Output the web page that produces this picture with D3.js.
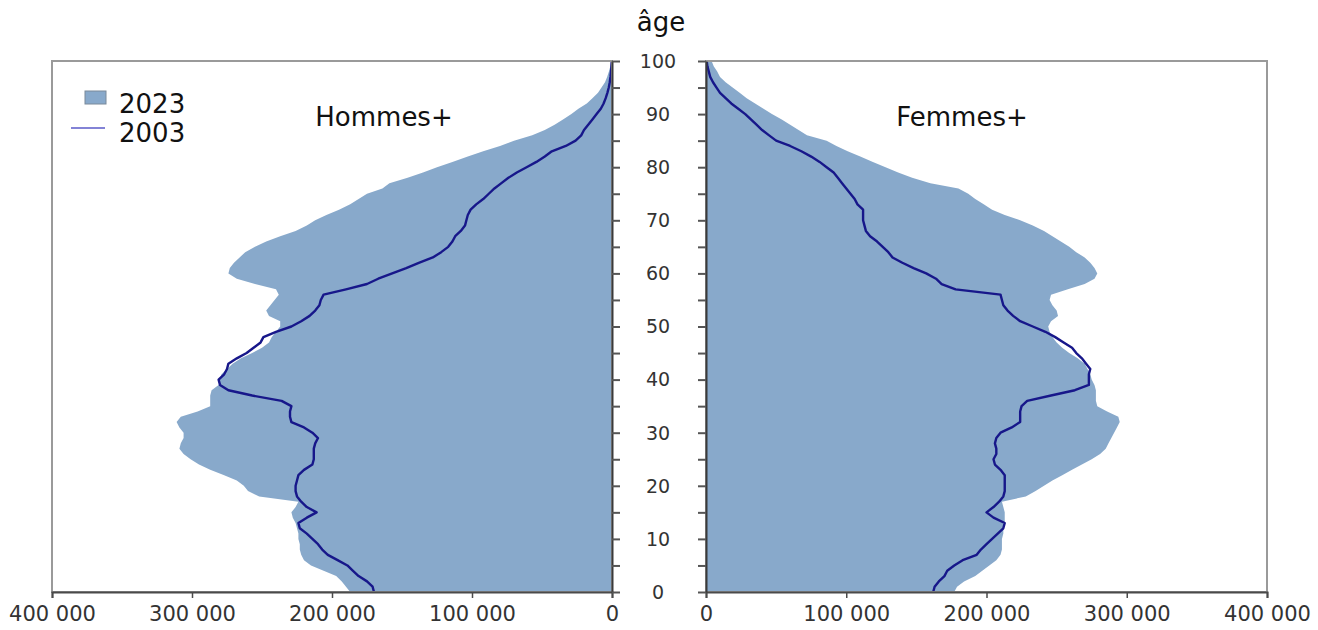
<!DOCTYPE html>
<html>
<head>
<meta charset="utf-8">
<script src="https://cdn.jsdelivr.net/npm/d3@7/dist/d3.min.js"></script>
<style>
body { margin: 0; background: #fff; }
svg text { font-family: "DejaVu Sans", Verdana, sans-serif; }
</style>
</head>
<body>
<div id="chart"></div>
<script>
// ages 0..100, values in thousands of persons
var ages = d3.range(0, 101);

var menFill2023 = [
  187, 190, 193, 197, 206, 215, 220, 222, 223, 223,
  224, 224, 225, 226, 228, 229, 226, 224, 252, 260,
  263, 268, 277, 287, 295, 301, 306, 309, 308, 306,
  306, 309, 311, 308, 296, 287, 287, 287, 286, 281,
  280, 279, 275, 271, 265, 257, 250, 245, 243, 240,
  237, 237, 245, 247, 244, 241, 238, 240, 255, 268,
  274, 273, 270, 266, 262, 255, 247, 237, 226, 218,
  212, 204, 195, 187, 181, 175, 164, 159, 146, 135,
  125, 114, 103, 92, 80, 70, 57, 48, 41, 35,
  29, 24, 18, 14, 10, 7.5, 5, 3.5, 2.2, 1.2, 0.5
];

var menLine2003 = [
  170, 171, 175, 181, 185, 189, 196, 203, 207, 210,
  214, 218, 223, 224, 218, 211, 218, 222, 225, 226,
  226, 225, 224, 220, 214, 213, 213, 213, 212, 210,
  214, 220, 229, 230, 230, 229, 236, 257, 274, 280,
  281, 277, 275, 274, 268, 261, 256, 251, 249, 240,
  229, 222, 216, 212, 209, 208, 206, 190, 175, 167,
  157, 147, 138, 128, 122, 117, 114, 112, 108, 105,
  104, 103, 101, 97, 92, 88, 84, 79, 74, 68,
  61, 54, 48, 43, 33, 26, 22, 20, 17, 14,
  11, 8, 6, 4.5, 3.3, 2.3, 1.6, 1.1, 0.7, 0.4, 0.2
];

var womenFill2023 = [
  177, 179, 184, 192, 197, 202, 207, 210, 211, 211,
  211, 212, 212, 213, 213, 213, 212, 211, 228, 235,
  241, 247, 254, 261, 268, 275, 281, 285, 287, 289,
  291, 293, 295, 294, 286, 279, 278, 278, 278, 277,
  275, 274, 272, 270, 265, 259, 254, 250, 247, 245,
  244, 246, 251, 250, 247, 245, 246, 258, 270, 277,
  279, 277, 274, 270, 264, 259, 253, 247, 241, 233,
  224, 213, 204, 198, 192, 187, 180, 160, 147, 137,
  128, 119, 110, 101, 93, 86, 72, 66, 60, 54,
  47, 41, 35, 29, 24, 19, 14, 10, 8, 5.5, 4
];

var womenLine2003 = [
  162, 163, 166, 170, 172, 177, 183, 193, 196, 200,
  204, 208, 212, 213, 205, 200, 205, 209, 212, 213,
  213, 213, 213, 210, 206, 205, 207, 207, 206, 207,
  210, 218, 224, 224, 224, 225, 229, 246, 263, 273,
  273, 273, 274, 271, 268, 264, 261, 255, 249, 242,
  233, 224, 219, 215, 212, 211, 210, 178, 168, 164,
  157, 148, 140, 133, 130, 126, 122, 117, 114, 113,
  112, 112, 112, 108, 106, 103, 100, 97, 94, 91,
  86, 81, 75, 68, 60, 50, 45, 40, 36, 32,
  28, 23, 18, 14, 10, 7.5, 5, 3, 2, 1, 0.5
];

var xTicks = [0, 100, 200, 300, 400];
var xTickLabels = ["0", "100 000", "200 000", "300 000", "400 000"];
var ageLabelTicks = [0, 10, 20, 30, 40, 50, 60, 70, 80, 90, 100];
var ageMinorTicks = [0, 5, 10, 15, 20, 25, 30, 35, 40, 45, 50, 55, 60, 65, 70, 75, 80, 85, 90, 95, 100];
var legendLabels = ["2023", "2003"];
var panelTitles = ["Hommes+", "Femmes+"];

var fillColor = "#88a9cb";
var lineColor = "#17178a";

var W = 1318, H = 630;
var plotTop = 61, plotBottom = 592;

var svg = d3.select("#chart").append("svg")
  .attr("width", W)
  .attr("height", H);

var y = d3.scaleLinear().domain([0, 100]).range([plotBottom, plotTop]);
var xMen = d3.scaleLinear().domain([400, 0]).range([52, 612]);
var xWomen = d3.scaleLinear().domain([0, 400]).range([706, 1267]);

function drawPanel(x, fillData, lineData, title, titleX) {
  var g = svg.append("g");
  var r = x.range();
  var left = Math.min(r[0], r[1]), right = Math.max(r[0], r[1]);

  var rows = ages.map(function(a, i) {
    return { age: a, fill: fillData[i], line: lineData[i] };
  });

  // pyramid area 2023
  g.append("path")
    .datum(rows)
    .attr("fill", fillColor)
    .attr("d", d3.area()
      .y(function(d) { return y(d.age); })
      .x0(x(0))
      .x1(function(d) { return x(d.fill); }));

  // outline 2003
  g.append("path")
    .datum(rows)
    .attr("fill", "none")
    .attr("stroke", lineColor)
    .attr("stroke-width", 2.4)
    .attr("stroke-linejoin", "round")
    .attr("d", d3.line()
      .y(function(d) { return y(d.age); })
      .x(function(d) { return x(d.line); }));

  // frame
  g.append("rect")
    .attr("x", left)
    .attr("y", plotTop)
    .attr("width", right - left)
    .attr("height", plotBottom - plotTop)
    .attr("fill", "none")
    .attr("stroke", "#9a9a9a")
    .attr("stroke-width", 2);

  // bottom axis
  var xAxis = g.append("g")
    .attr("transform", "translate(0," + plotBottom + ")")
    .call(d3.axisBottom(x)
      .tickValues(xTicks)
      .tickFormat(function(d, i) { return xTickLabels[i]; })
      .tickSizeOuter(0)
      .tickSize(6)
      .tickPadding(8));
  xAxis.select(".domain").attr("stroke", "#4a4a4a").attr("stroke-width", 2);
  xAxis.selectAll(".tick line").attr("stroke", "#4a4a4a").attr("stroke-width", 1.5);
  xAxis.selectAll(".tick text")
    .attr("fill", "#333")
    .attr("font-size", "21px")
    .attr("font-family", "DejaVu Sans, sans-serif");

  // inner age axis (ticks pointing to the middle)
  var zero = x(0);
  var ageAxis = (zero > left + 1) ? d3.axisRight(y) : d3.axisLeft(y);
  var ga = g.append("g")
    .attr("transform", "translate(" + zero + ",0)")
    .call(ageAxis.tickValues(ageMinorTicks).tickFormat("").tickSize(8).tickSizeOuter(0));
  ga.select(".domain").attr("stroke", "#3a3a3a").attr("stroke-width", 2);
  ga.selectAll(".tick line").attr("stroke", "#555").attr("stroke-width", 2);

  // title
  g.append("text")
    .attr("x", titleX)
    .attr("y", 126)
    .attr("text-anchor", "middle")
    .attr("font-size", "26px")
    .attr("fill", "#111")
    .text(title);
}

drawPanel(xMen, menFill2023, menLine2003, panelTitles[0], 384);
drawPanel(xWomen, womenFill2023, womenLine2003, panelTitles[1], 962);

// age labels in the middle
svg.append("g")
  .selectAll("text")
  .data(ageLabelTicks)
  .enter().append("text")
    .attr("x", 658)
    .attr("y", function(d) { return y(d); })
    .attr("dy", "0.36em")
    .attr("text-anchor", "middle")
    .attr("font-size", "19px")
    .attr("fill", "#333")
    .text(function(d) { return d; });

svg.append("text")
  .attr("x", 661)
  .attr("y", 31)
  .attr("text-anchor", "middle")
  .attr("font-size", "26px")
  .attr("fill", "#111")
  .text("âge");

// legend
var legend = svg.append("g");
legend.append("rect")
  .attr("x", 85)
  .attr("y", 91)
  .attr("width", 21)
  .attr("height", 13)
  .attr("fill", fillColor)
  .attr("stroke", "#7a8a9a")
  .attr("stroke-width", 1);
legend.append("line")
  .attr("x1", 71).attr("x2", 105)
  .attr("y1", 128).attr("y2", 128)
  .attr("stroke", "#5a5ac8")
  .attr("stroke-width", 1.6);
legend.selectAll("text.lab")
  .data(legendLabels)
  .enter().append("text")
    .attr("class", "lab")
    .attr("x", 119)
    .attr("y", function(d, i) { return 113 + i * 29; })
    .attr("font-size", "26px")
    .attr("fill", "#111")
    .text(function(d) { return d; });
</script>
</body>
</html>
